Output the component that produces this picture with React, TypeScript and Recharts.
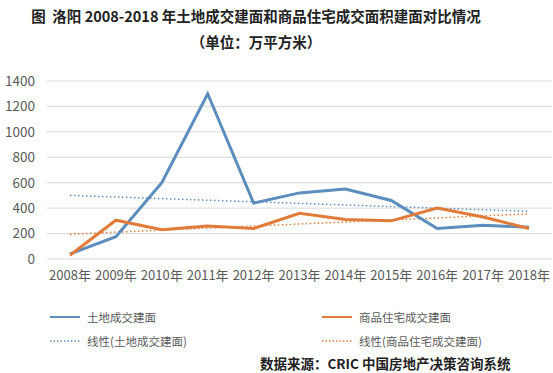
import { CartesianGrid, Line, LineChart, XAxis, YAxis } from "recharts";

const years = ["2008年", "2009年", "2010年", "2011年", "2012年", "2013年", "2014年", "2015年", "2016年", "2017年", "2018年"];
const landArea = [40, 175, 600, 1300, 440, 520, 550, 460, 240, 265, 250];
const housingArea = [30, 305, 230, 260, 240, 360, 310, 300, 400, 330, 240];
// trend lines: only the two ends are drawn
const landTrend = [500, null, null, null, null, null, null, null, null, null, 375];
const housingTrend = [195, null, null, null, null, null, null, null, null, null, 355];
const yTicks = [0, 200, 400, 600, 800, 1000, 1200, 1400];

const BLUE = "#5B8EBD";
const ORANGE = "#E07B3A";
const FONT = '"Noto Sans CJK SC", "Noto Sans", sans-serif';

const data = years.map((year, i) => ({
  year,
  land: landArea[i],
  housing: housingArea[i],
  landTrend: landTrend[i],
  housingTrend: housingTrend[i],
}));

function LegendItem({ x, y, color, dotted, label }: { x: number; y: number; color: string; dotted?: boolean; label: string }) {
  return (
    <div style={{ position: "absolute", left: x, top: y - 8, height: 16, display: "flex", alignItems: "center" }}>
      <svg width={32} height={4} style={{ marginRight: 5 }}>
        <line x1={0} y1={2} x2={30} y2={2} stroke={color} strokeWidth={dotted ? 1.5 : 2} strokeDasharray={dotted ? "1.5 2" : undefined} />
      </svg>
      <span style={{ fontSize: 11.5, color: "#595959" }}>{label}</span>
    </div>
  );
}

export default function App() {
  return (
    <div style={{ position: "absolute", left: 0, top: 0, width: 553, height: 373, background: "#fff", fontFamily: FONT, overflow: "hidden" }}>
      <div style={{ position: "absolute", left: 0, width: 512, top: 5, textAlign: "center", fontSize: 14.5, fontWeight: 700, color: "#222", whiteSpace: "nowrap" }}>
        图&nbsp; 洛阳 2008-2018 年土地成交建面和商品住宅成交面积建面对比情况
      </div>
      <div style={{ position: "absolute", left: 0, width: 512, top: 31, textAlign: "center", fontSize: 14.5, fontWeight: 700, color: "#222" }}>
        （单位：万平方米）
      </div>

      <div style={{ position: "absolute", left: 0, top: 0 }}>
        <LineChart width={553} height={373} data={data} margin={{ top: 81, right: 1, bottom: 84, left: 7 }}>
          <CartesianGrid horizontal vertical={false} stroke="#d9d9d9" />
          <XAxis
            dataKey="year"
            axisLine={false}
            tickLine={false}
            interval={0}
            padding={{ left: 23, right: 23 }}
            tick={{ fontSize: 13, fill: "#595959", fontFamily: FONT }}
            tickMargin={6}
          />
          <YAxis
            width={40}
            domain={[0, 1400]}
            ticks={yTicks}
            axisLine={false}
            tickLine={false}
            tick={{ fontSize: 13.5, fill: "#595959", fontFamily: FONT }}
            tickMargin={6}
          />
          <Line dataKey="landTrend" stroke={BLUE} strokeWidth={1.5} strokeDasharray="1.5 2.5" dot={false} connectNulls isAnimationActive={false} />
          <Line dataKey="housingTrend" stroke={ORANGE} strokeWidth={1.5} strokeDasharray="1.5 2.5" dot={false} connectNulls isAnimationActive={false} />
          <Line dataKey="land" stroke={BLUE} strokeWidth={3} dot={false} type="linear" isAnimationActive={false} />
          <Line dataKey="housing" stroke={ORANGE} strokeWidth={3} dot={false} type="linear" isAnimationActive={false} />
        </LineChart>
      </div>

      <LegendItem x={50} y={317} color={BLUE} label="土地成交建面" />
      <LegendItem x={322} y={317} color={ORANGE} label="商品住宅成交建面" />
      <LegendItem x={50} y={341} color={BLUE} dotted label="线性(土地成交建面)" />
      <LegendItem x={322} y={341} color={ORANGE} dotted label="线性(商品住宅成交建面)" />

      <div style={{ position: "absolute", left: 260, top: 353, fontSize: 13.5, fontWeight: 700, color: "#222", whiteSpace: "nowrap" }}>
        数据来源：CRIC 中国房地产决策咨询系统
      </div>
    </div>
  );
}
